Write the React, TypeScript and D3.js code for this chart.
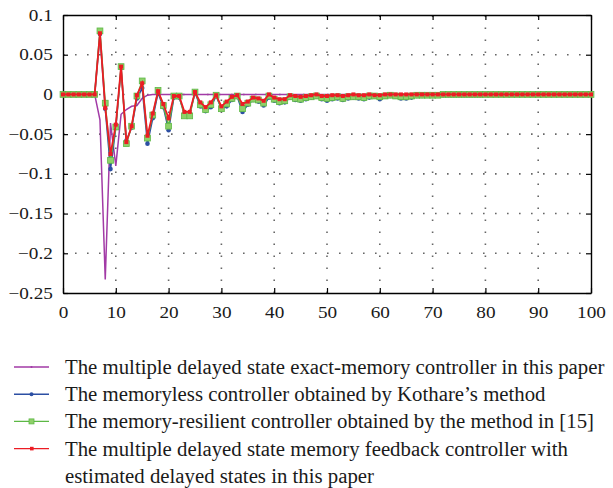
import React, { useEffect, useRef } from 'react';
import * as d3 from 'd3';

// sample index k = 0..100
const purple = [
  0, 0, 0, 0, 0, 0, 0, -0.032, -0.233, -0.036, -0.09, -0.025, -0.019, -0.015, -0.014, -0.005, -0.001,
  ...new Array(84).fill(0),
];
const blue = [
  0, 0, 0, 0, 0, 0, 0, 0.076, -0.018, -0.094, -0.042, 0.033, -0.058, -0.042, -0.005, 0.008, -0.062,
  -0.030, 0.002, -0.016, -0.045, -0.004, -0.004, -0.024, -0.024, 0.002, -0.015, -0.021, -0.016, -0.002,
  -0.018, -0.015, -0.007, -0.003, -0.022, -0.013, -0.007, -0.009, -0.014, -0.004, -0.008, -0.011, -0.010,
  -0.004, -0.007, -0.008, -0.006, -0.004, -0.003, -0.006, -0.008, -0.006, -0.005, -0.007, -0.005, -0.004,
  -0.005, -0.006, -0.004, -0.003, -0.006, -0.003, -0.002, -0.003, -0.005, -0.005, -0.004, -0.002, -0.002,
  -0.001, -0.002, -0.001, -0.001, -0.001, -0.001, -0.001, -0.001, -0.001, -0.001, -0.001, 0, 0, 0, 0, 0,
  0, 0, 0, 0, 0, 0, 0, 0, 0, 0, 0, 0, 0, 0, 0, 0,
];
const green = [
  0, 0, 0, 0, 0, 0, 0, 0.080, -0.011, -0.083, -0.041, 0.035, -0.062, -0.040, -0.002, 0.017, -0.055,
  -0.026, 0.005, -0.014, -0.040, -0.002, -0.002, -0.027, -0.027, 0.003, -0.013, -0.019, -0.013, -0.001,
  -0.018, -0.012, -0.005, -0.002, -0.018, -0.011, -0.006, -0.007, -0.011, -0.002, -0.006, -0.009, -0.008,
  -0.003, -0.005, -0.006, -0.004, -0.003, -0.002, -0.004, -0.005, -0.004, -0.003, -0.005, -0.003, -0.003,
  -0.003, -0.004, -0.002, -0.002, -0.003, -0.002, -0.001, -0.002, -0.003, -0.003, -0.002, -0.001, -0.001,
  -0.001, -0.001, -0.001, 0, 0, 0, 0, 0, 0, 0, 0, 0, 0, 0, 0, 0,
  0, 0, 0, 0, 0, 0, 0, 0, 0, 0, 0, 0, 0, 0, 0, 0,
];
const red = [
  0, 0, 0, 0, 0, 0, 0, 0.077, -0.017, -0.075, -0.038, 0.035, -0.060, -0.040, -0.001, 0.014, -0.052,
  -0.024, 0.004, -0.012, -0.030, -0.002, -0.002, -0.022, -0.022, 0.003, -0.010, -0.016, -0.010, -0.001,
  -0.015, -0.009, -0.003, -0.001, -0.012, -0.009, -0.004, -0.005, -0.008, 0, -0.004, -0.006, -0.006,
  -0.001, -0.002, -0.003, -0.002, -0.001, 0, -0.002, -0.002, -0.001, -0.001, -0.002, -0.001, 0,
  -0.001, -0.001, 0, -0.001, -0.001, 0, 0, 0, 0, 0, 0, 0, 0, 0, 0, 0, 0, 0, 0, 0, 0, 0, 0, 0, 0, 0, 0, 0, 0,
  0, 0, 0, 0, 0, 0, 0, 0, 0, 0, 0, 0, 0, 0, 0, 0,
];

const xTicks = [0, 10, 20, 30, 40, 50, 60, 70, 80, 90, 100];
const yTicks = [0.1, 0.05, 0, -0.05, -0.1, -0.15, -0.2, -0.25];
const legendLabels = [
  'The multiple delayed state exact-memory controller in this paper',
  'The memoryless controller obtained by Kothare\u2019s method',
  'The memory-resilient controller obtained by the method in [15]',
  'The multiple delayed state memory feedback controller with',
];
const legendExtra = 'estimated delayed states in this paper';

const W = 613, H = 488;
const plot = { left: 63, right: 591, top: 15, bottom: 293 };
const font = '"Liberation Serif", "Times New Roman", serif';

export default function App() {
  const ref = useRef<SVGSVGElement>(null);

  useEffect(() => {
    document.body.style.margin = '0';
    const svg = d3.select(ref.current);
    svg.selectAll('*').remove();

    const x = d3.scaleLinear().domain([0, 100]).range([plot.left, plot.right]);
    const y = d3.scaleLinear().domain([-0.25, 0.1]).range([plot.bottom, plot.top]);

    // grid
    const grid = svg.append('g').attr('stroke', '#666').attr('stroke-width', 1.6)
      .attr('stroke-dasharray', '1.6,10.4');
    xTicks.slice(1, -1).forEach(t => {
      grid.append('line').attr('x1', x(t)).attr('x2', x(t)).attr('y1', plot.bottom).attr('y2', plot.top);
    });
    yTicks.slice(1, -1).forEach(t => {
      grid.append('line').attr('x1', plot.left).attr('x2', plot.right).attr('y1', y(t)).attr('y2', y(t));
    });

    // axes (ticks inward on all four sides)
    const axes = [
      { a: d3.axisBottom(x).tickValues(xTicks).tickSizeInner(-5), tr: `translate(0,${plot.bottom})`, lab: true },
      { a: d3.axisTop(x).tickValues(xTicks).tickSizeInner(-5), tr: `translate(0,${plot.top})`, lab: false },
      { a: d3.axisLeft(y).tickValues(yTicks).tickSizeInner(-5), tr: `translate(${plot.left},0)`, lab: true },
      { a: d3.axisRight(y).tickValues(yTicks).tickSizeInner(-5), tr: `translate(${plot.right},0)`, lab: false },
    ];
    axes.forEach((ax, i) => {
      const g = svg.append('g').attr('transform', ax.tr)
        .call(ax.a.tickSizeOuter(0).tickPadding(10).tickFormat(d => String(d).replace('-', '\u2212')));
      g.select('.domain').attr('stroke', '#000').attr('stroke-width', 1.4);
      g.selectAll('.tick line').attr('stroke', '#000').attr('stroke-width', 1.2);
      g.selectAll('.tick text')
        .attr('font-family', font).attr('font-size', 16).attr('fill', '#1a1a1a')
        .style('display', ax.lab ? null : 'none');
      if (i === 0) {
        g.selectAll('.tick text').attr('transform', 'scale(1.2,1)').attr('dy', '1.05em').attr('y', 8);
      }
      if (i === 2) {
        g.selectAll('.tick text').attr('transform', 'scale(1.2,1)').attr('x', -8.5);
      }
    });

    const line = d3.line<number>().x((_, i) => x(i)).y(d => y(d));

    // purple
    svg.append('path').datum(purple).attr('d', line).attr('fill', 'none')
      .attr('stroke', '#a23aa6').attr('stroke-width', 1.5);

    // blue
    svg.append('path').datum(blue).attr('d', line).attr('fill', 'none')
      .attr('stroke', '#2c4fa3').attr('stroke-width', 1.5);
    svg.append('g').selectAll('circle').data(blue).enter().append('circle')
      .attr('cx', (_, i) => x(i)).attr('cy', d => y(d)).attr('r', 2.3).attr('fill', '#2c4fa3');

    // green
    svg.append('path').datum(green).attr('d', line).attr('fill', 'none')
      .attr('stroke', '#5cb845').attr('stroke-width', 1.5);
    svg.append('g').selectAll('rect').data(green).enter().append('rect')
      .attr('x', (_, i) => x(i) - 2.9).attr('y', d => y(d) - 2.9).attr('width', 5.8).attr('height', 5.8)
      .attr('fill', '#8fd06a').attr('stroke', '#5cb845').attr('stroke-width', 0.8);

    // red
    svg.append('path').datum(red).attr('d', line).attr('fill', 'none')
      .attr('stroke', '#ec1c24').attr('stroke-width', 1.8);
    svg.append('g').selectAll('rect').data(red).enter().append('rect')
      .attr('x', (_, i) => x(i) - 2).attr('y', d => y(d) - 2).attr('width', 4).attr('height', 4)
      .attr('fill', '#ec1c24');

    // legend
    const colors = ['#a23aa6', '#2c4fa3', '#5cb845', '#ec1c24'];
    const lg = svg.append('g');
    legendLabels.forEach((lab, i) => {
      const ly = 367 + i * 27.2;
      lg.append('line').attr('x1', 14).attr('x2', 49).attr('y1', ly).attr('y2', ly)
        .attr('stroke', colors[i]).attr('stroke-width', 1.4);
      if (i === 1) lg.append('circle').attr('cx', 31.5).attr('cy', ly).attr('r', 2).attr('fill', colors[i]);
      if (i === 2) lg.append('rect').attr('x', 29).attr('y', ly - 2.5).attr('width', 5).attr('height', 5)
        .attr('fill', '#8fd06a').attr('stroke', colors[i]).attr('stroke-width', 0.8);
      if (i === 3) lg.append('rect').attr('x', 30).attr('y', ly - 1.8).attr('width', 3.6).attr('height', 3.6)
        .attr('fill', colors[i]);
      if (i === 0) lg.append('circle').attr('cx', 31.5).attr('cy', ly).attr('r', 1).attr('fill', colors[i]);
      lg.append('text').attr('x', 65).attr('y', ly + 7).attr('font-family', font).attr('font-size', 20.8)
        .attr('fill', '#1a1a1a').text(lab);
    });
    lg.append('text').attr('x', 65).attr('y', 367 + 4 * 27.2 + 7).attr('font-family', font)
      .attr('font-size', 20.8).attr('fill', '#1a1a1a').text(legendExtra);
  }, []);

  return <svg ref={ref} width={W} height={H} style={{ display: 'block', background: '#fff' }} />;
}
